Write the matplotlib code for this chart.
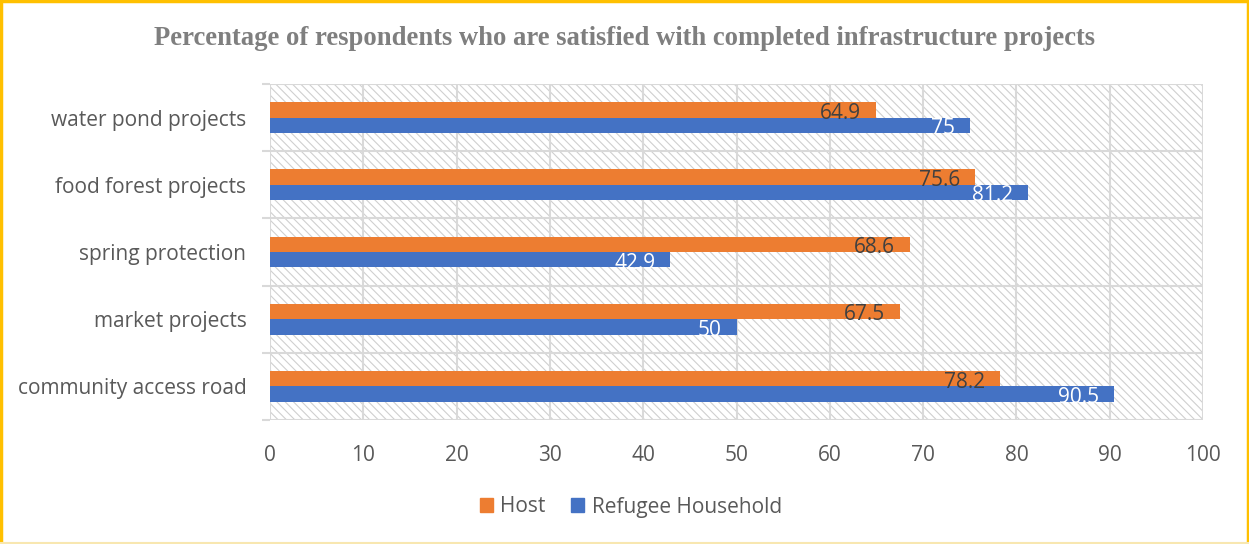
import matplotlib
matplotlib.use("Agg")
import matplotlib.pyplot as plt
from matplotlib.patches import Rectangle, Patch
from matplotlib.lines import Line2D
import numpy as np

categories = ["water pond projects", "food forest projects", "spring protection",
              "market projects", "community access road"]
host = [64.9, 75.6, 68.6, 67.5, 78.2]
refugee = [75, 81.2, 42.9, 50, 90.5]
series_names = ["Host", "Refugee Household"]
xticks = [0, 10, 20, 30, 40, 50, 60, 70, 80, 90, 100]
title = "Percentage of respondents who are satisfied with completed infrastructure projects"

ORANGE = "#ED7D31"
BLUE = "#4472C4"
GRID = "#D9D9D9"
TXT = "#595959"

plt.rcParams['hatch.color'] = "#CFCFCF"
plt.rcParams['hatch.linewidth'] = 0.8

fig = plt.figure(figsize=(12.49, 5.44), dpi=100)
ax = fig.add_axes([270/1249, 1-420/544, (1203-270)/1249, (420-84)/544])

n = len(categories)
ypos = np.arange(n)[::-1].astype(float)  # top category at highest y
bh = 0.23
ax.set_ylim(-0.5, n-0.5)
ax.set_xlim(0, 100)

# hatched background
ax.add_patch(Rectangle((0, -0.5), 100, n, facecolor="white", edgecolor="#CFCFCF",
                       hatch="\\\\\\\\", lw=0, zorder=0))

ax.barh(ypos + bh/2, host, height=bh, color=ORANGE, zorder=3)
ax.barh(ypos - bh/2, refugee, height=bh, color=BLUE, zorder=3)

for y, v in zip(ypos, host):
    ax.text(v - 1.6, y + bh/2 - 0.05, f"{v:g}", ha="right", va="center",
            color="#404040", fontsize=15, family="Open Sans", zorder=5)
for y, v in zip(ypos, refugee):
    ax.text(v - 1.6, y - bh/2 - 0.05, f"{v:g}", ha="right", va="center",
            color="white", fontsize=15, family="Open Sans", zorder=5)

# grid
for x in xticks:
    ax.axvline(x, color=GRID, lw=1.5, zorder=1)
for b in np.arange(-0.5, n, 1.0):
    ax.axhline(b, color=GRID, lw=1.5, zorder=1)

ax.set_yticks(ypos)
ax.set_yticklabels(categories, fontsize=15, family="Open Sans", color=TXT)
ax.set_yticks(np.arange(-0.5, n, 1.0), minor=True)
ax.tick_params(axis="y", which="major", length=0, pad=17)
ax.tick_params(axis="y", which="minor", length=6, color=GRID, width=1.5)
ax.set_xticks(xticks)
ax.set_xticklabels([str(t) for t in xticks], fontsize=15, family="Open Sans", color=TXT)
ax.tick_params(axis="x", length=0, pad=18)
for s in ax.spines.values():
    s.set_visible(False)

fig.text(0.5, 1-38.5/544, title, ha="center", va="center", fontsize=19.2,
         fontweight="bold", family="Liberation Serif", color="#7F7F7F")

handles = [Patch(color=ORANGE), Patch(color=BLUE)]
fig.legend(handles, series_names, loc="center", bbox_to_anchor=(0.505, 1-507/544),
           ncol=2, frameon=False, prop={"family": "Open Sans", "size": 15},
           labelcolor=TXT, handlelength=0.65, handleheight=0.65, columnspacing=1.2,
           handletextpad=0.35)

# gold border
fig.add_artist(Line2D([0.001, 0.001], [0, 1], transform=fig.transFigure, color="#FFC000", lw=2.5))
fig.add_artist(Line2D([0.999, 0.999], [0, 1], transform=fig.transFigure, color="#FFC000", lw=2.5))
fig.add_artist(Line2D([0, 1], [0.998, 0.998], transform=fig.transFigure, color="#FFC000", lw=2.5))
fig.add_artist(Line2D([0, 1], [0.002, 0.002], transform=fig.transFigure, color="#F8E7B0", lw=1.5))

fig.savefig("out.png", dpi=100)
